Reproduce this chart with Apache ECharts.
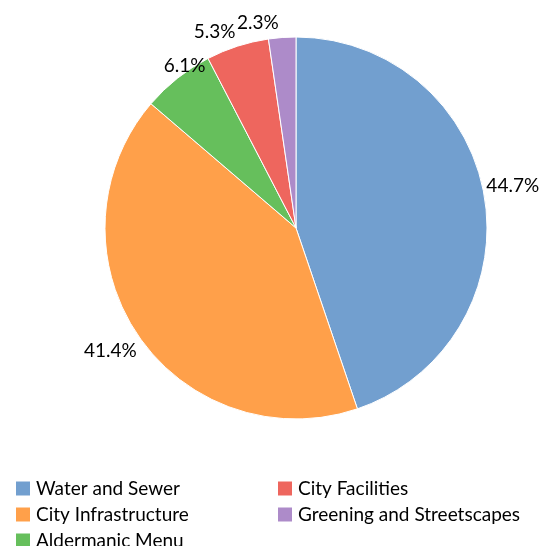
<!DOCTYPE html>
<html><head><meta charset="utf-8">
<script src="https://cdn.jsdelivr.net/npm/echarts@6/dist/echarts.min.js"></script>
<style>html,body{margin:0;padding:0;background:#fff}#c{width:546px;height:546px}</style>
</head><body><div id="c"></div>
<script>
const categories = ['Water and Sewer','City Infrastructure','Aldermanic Menu','City Facilities','Greening and Streetscapes'];
const values = [44.7, 41.4, 6.1, 5.3, 2.3];
const colors = ['#729FCF','#FFA04A','#66BF5C','#EE665E','#AD8BC9'];
const font = 'Lato, "Open Sans", sans-serif';
// label nudges (styling only) to mimic the original best-fit placement
const labelNudge = [[-9,-10],[9,12],[37,-8],[5,-9],[2,-9]];
const chart = echarts.init(document.getElementById('c'));
const legendCommon = {orient:'vertical', itemWidth:16, itemHeight:16, itemGap:7, icon:'rect', height:90, padding:0,
  textStyle:{fontFamily:font, fontSize:19, lineHeight:16, color:'#000'}, selectedMode:false};
chart.setOption({
  animation:false,
  color: colors,
  legend:[
    Object.assign({left:14, top:479, data:categories.slice(0,3)}, legendCommon),
    Object.assign({left:276, top:479, data:categories.slice(3)}, legendCommon)
  ],
  series:[{
    type:'pie', center:[296,228], radius:191, startAngle:90, clockwise:true, avoidLabelOverlap:false,
    data: categories.map((n,i)=>({name:n, value:values[i], label:{offset:labelNudge[i]}})),
    label:{show:true, position:'outside', formatter: p=>p.value.toFixed(1)+'%', overflow:'none',
      fontFamily:font, fontSize:19, color:'#000'},
    labelLine:{show:false, length:6, length2:0},
    labelLayout:{hideOverlap:false},
    itemStyle:{borderColor:'#fff', borderWidth:1}
  }]
});
</script></body></html>
